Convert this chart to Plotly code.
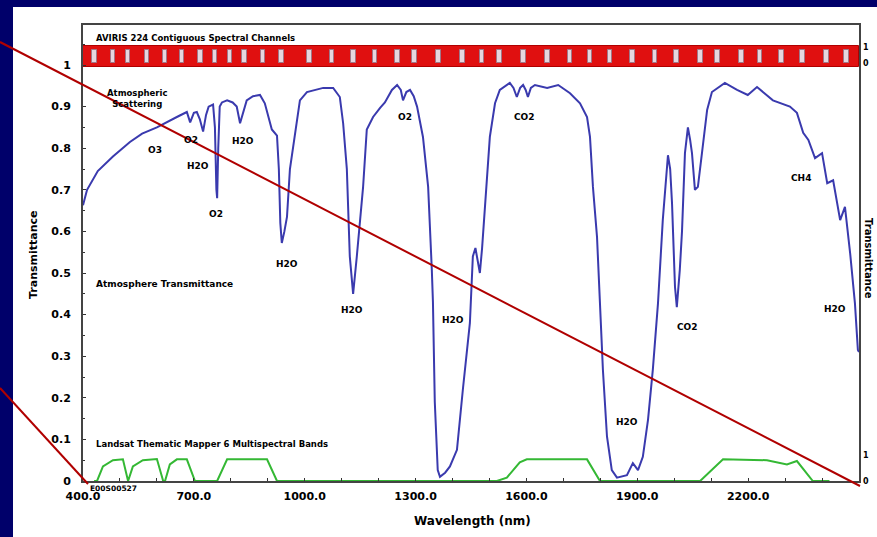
import plotly.graph_objects as go

# ---------------- data ----------------
wavelength = [400, 411, 440, 481, 527, 560, 600, 630, 654, 681, 690, 700, 708, 716, 725, 733, 740, 752,
              757, 761, 763, 766, 770, 776, 790, 805, 816, 825, 834, 843, 860, 879, 892, 900, 911, 925,
              930, 934, 938, 945, 952, 960, 968, 974, 987, 1006, 1050, 1077, 1095, 1104, 1114, 1122,
              1131, 1141, 1150, 1158, 1168, 1185, 1204, 1217, 1236, 1250, 1260, 1266, 1275, 1285, 1295,
              1304, 1320, 1334, 1344, 1347, 1352, 1360, 1366, 1380, 1393, 1412, 1428, 1447, 1455, 1462,
              1468, 1474, 1480, 1488, 1501, 1515, 1528, 1555, 1565, 1574, 1583, 1591, 1598, 1604, 1612,
              1623, 1656, 1686, 1718, 1745, 1764, 1772, 1780, 1791, 1799, 1807, 1818, 1831, 1845, 1872,
              1888, 1902, 1915, 1929, 1942, 1956, 1969, 1983, 1989, 1994, 2002, 2007, 2015, 2021, 2029,
              2037, 2043, 2048, 2056, 2064, 2075, 2089, 2102, 2137, 2170, 2199, 2224, 2267, 2313, 2332,
              2349, 2363, 2381, 2400, 2414, 2430, 2449, 2462, 2476, 2489, 2497, 2500]
transmittance = [0.663, 0.70, 0.745, 0.78, 0.815, 0.835, 0.85, 0.865, 0.875, 0.887, 0.862, 0.885, 0.887,
                 0.87, 0.84, 0.88, 0.90, 0.905, 0.85, 0.70, 0.68, 0.80, 0.90, 0.91, 0.915, 0.91, 0.90,
                 0.86, 0.89, 0.915, 0.925, 0.928, 0.908, 0.88, 0.845, 0.83, 0.75, 0.62, 0.572, 0.60,
                 0.635, 0.75, 0.80, 0.845, 0.915, 0.935, 0.945, 0.945, 0.923, 0.86, 0.75, 0.54, 0.45,
                 0.54, 0.63, 0.707, 0.845, 0.875, 0.897, 0.91, 0.94, 0.952, 0.94, 0.915, 0.935, 0.94,
                 0.925, 0.90, 0.827, 0.707, 0.507, 0.43, 0.19, 0.026, 0.01, 0.02, 0.035, 0.075, 0.22,
                 0.38, 0.54, 0.56, 0.53, 0.50, 0.56, 0.668, 0.827, 0.908, 0.94, 0.957, 0.945, 0.923,
                 0.945, 0.952, 0.94, 0.923, 0.945, 0.952, 0.945, 0.952, 0.932, 0.908, 0.875, 0.827,
                 0.707, 0.587, 0.427, 0.267, 0.107, 0.026, 0.008, 0.014, 0.043, 0.026, 0.058, 0.147,
                 0.267, 0.427, 0.627, 0.783, 0.75, 0.668, 0.467, 0.418, 0.507, 0.60, 0.788, 0.85, 0.82,
                 0.788, 0.70, 0.707, 0.788, 0.892, 0.935, 0.957, 0.94, 0.928, 0.947, 0.915, 0.90, 0.885,
                 0.837, 0.82, 0.776, 0.788, 0.716, 0.723, 0.627, 0.659, 0.548, 0.427, 0.315, 0.31]

landsat_wl = [430, 438, 454, 481, 508, 522, 535, 562, 600, 617, 622, 635, 654, 681, 703, 763, 790, 898,
              925, 1520, 1547, 1582, 1601, 1764, 1799, 2070, 2132, 2251, 2305, 2332, 2375, 2420]
landsat_resp = [0, 0, 0.035, 0.05, 0.052, 0, 0.035, 0.05, 0.053, 0, 0, 0.04, 0.052, 0.052, 0, 0, 0.052,
                0.052, 0, 0, 0.008, 0.045, 0.052, 0.052, 0, 0, 0.052, 0.05, 0.04, 0.048, 0, 0]

aviris_range = [400, 2500]
aviris_level = [0.995, 1.045]
aviris_blocks = [432, 481, 522, 573, 622, 668, 717, 757, 798, 838, 887, 938, 1014, 1074, 1131, 1190,
                 1250, 1298, 1361, 1426, 1480, 1528, 1591, 1656, 1718, 1772, 1826, 1886, 1948, 2007,
                 2070, 2118, 2183, 2232, 2291, 2348, 2413, 2467]

gas_labels = ["O3", "O2", "H2O", "H2O", "O2", "H2O", "H2O", "O2", "H2O", "CO2", "H2O", "CO2", "CH4", "H2O"]
gas_x = [595, 692, 711, 833, 760, 952, 1128, 1271, 1401, 1596, 1872, 2037, 2343, 2435]
gas_y = [0.796, 0.82, 0.757, 0.817, 0.642, 0.522, 0.411, 0.875, 0.387, 0.875, 0.142, 0.37, 0.728, 0.413]

x_ticks = [400, 700, 1000, 1300, 1600, 1900, 2200, 2500]
x_ticktext = ["400.0", "700.0", "1000.0", "1300.0", "1600.0", "1900.0", "2200.0", "2500.0"]
y_ticks = [0, 0.1, 0.2, 0.3, 0.4, 0.5, 0.6, 0.7, 0.8, 0.9, 1.0]
y_ticktext = ["0", "0.1", "0.2", "0.3", "0.4", "0.5", "0.6", "0.7", "0.8", "0.9", "1"]

# ---------------- figure ----------------
FONT = "DejaVu Sans"
NAVY = "#00006a"
fig = go.Figure()

# AVIRIS red band (as bars so that the channel blocks can sit on top of it)
fig.add_trace(go.Bar(
    x=[(aviris_range[0] + aviris_range[1]) / 2], y=[aviris_level[1] - aviris_level[0]],
    base=aviris_level[0], width=aviris_range[1] - aviris_range[0],
    marker=dict(color="#e01010", line=dict(color="#b00000", width=1)),
    hoverinfo="skip", showlegend=False))
fig.add_trace(go.Bar(
    x=aviris_blocks, y=[0.032] * len(aviris_blocks), base=aviris_level[0] + 0.009, width=13,
    marker=dict(color="#e6d6de", line=dict(color="#a07888", width=1)),
    hoverinfo="skip", showlegend=False))

# Landsat bands
fig.add_trace(go.Scatter(x=landsat_wl, y=landsat_resp, mode="lines",
                         line=dict(color="#34b834", width=2), showlegend=False))
# Transmittance
fig.add_trace(go.Scatter(x=wavelength, y=transmittance, mode="lines",
                         line=dict(color="#3a3aae", width=2), showlegend=False))

annotations = []
for t, gx, gy in zip(gas_labels, gas_x, gas_y):
    annotations.append(dict(x=gx, y=gy, xref="x", yref="y", text=t, showarrow=False,
                            font=dict(family=FONT, size=9, color="black", weight="bold")))

L, R, T, B, W, H = 83, 859, 25, 481, 877, 537
def px(x):
    return (x - L) / (R - L)
def py(y):
    return (B - y) / (B - T)

def ptext(x, y, text, size=9, xanchor="left", angle=0):
    annotations.append(dict(x=px(x), y=py(y), xref="paper", yref="paper", text=text, showarrow=False,
                            xanchor=xanchor, yanchor="middle", textangle=angle,
                            font=dict(family=FONT, size=size, color="black", weight="bold")))

ptext(94, 38, "AVIRIS 224 Contiguous Spectral Channels", 8.5)
ptext(137, 98, "Atmospheric<br>Scattering", 8.5, xanchor="center")
ptext(94, 284, "Atmosphere Transmittance", 9)
ptext(94, 444, "Landsat Thematic Mapper 6 Multispectral Bands", 8.5)
ptext(866, 47, "1", 8, xanchor="center")
ptext(866, 63, "0", 8, xanchor="center")
ptext(866, 455, "1", 8, xanchor="center")
ptext(866, 481, "0", 8, xanchor="center")
ptext(869, 258, "Transmittance", 10, xanchor="center", angle=90)
ptext(33, 255, "Transmittance", 11, xanchor="center", angle=-90)
ptext(472, 521, "Wavelength (nm)", 12, xanchor="center")
ptext(88, 488, "E00S00527", 7.5)

shapes = [
    # navy frame on the left and top of the white panel
    dict(type="rect", xref="paper", yref="paper", x0=px(-20), x1=px(13), y0=py(560), y1=py(-20),
         fillcolor=NAVY, line=dict(width=0), layer="below"),
    dict(type="rect", xref="paper", yref="paper", x0=px(-20), x1=px(900), y0=py(7), y1=py(-20),
         fillcolor=NAVY, line=dict(width=0), layer="below"),
    dict(type="line", xref="paper", yref="paper", x0=px(0), y0=py(42), x1=px(860), y1=py(486),
         line=dict(color="#b00000", width=2), layer="above"),
    dict(type="line", xref="paper", yref="paper", x0=px(0), y0=py(388), x1=px(88), y1=py(484),
         line=dict(color="#b00000", width=2), layer="above"),
]

fig.update_layout(
    width=W, height=H,
    margin=dict(l=L, r=W - R, t=T, b=H - B, pad=0),
    paper_bgcolor="white", plot_bgcolor="white",
    showlegend=False, annotations=annotations, shapes=shapes, barmode="overlay", bargap=0,
    xaxis=dict(range=[400, 2500], tickvals=x_ticks, ticktext=x_ticktext, showgrid=False, zeroline=False,
               showline=True, linecolor="#444444", linewidth=2, mirror=True,
               ticks="inside", ticklen=3, tickcolor="#333333",
               minor=dict(dtick=100, tick0=400, ticks="inside", ticklen=3, tickcolor="#333333"),
               tickfont=dict(family=FONT, size=11, color="black", weight="bold"), ticklabelstandoff=4),
    yaxis=dict(range=[0, (B - T) / 416], tickvals=y_ticks, ticktext=y_ticktext, showgrid=False, zeroline=False,
               showline=True, linecolor="#444444", linewidth=2, mirror=True,
               ticks="inside", ticklen=3, tickcolor="#333333",
               minor=dict(dtick=0.05, tick0=0, ticks="inside", ticklen=2, tickcolor="#333333"),
               tickfont=dict(family=FONT, size=11, color="black", weight="bold"), ticklabelstandoff=8),
)

fig.write_html("out.html", config={"displayModeBar": False},
               post_script="document.body.style.margin='0';document.body.style.overflow='hidden';")
